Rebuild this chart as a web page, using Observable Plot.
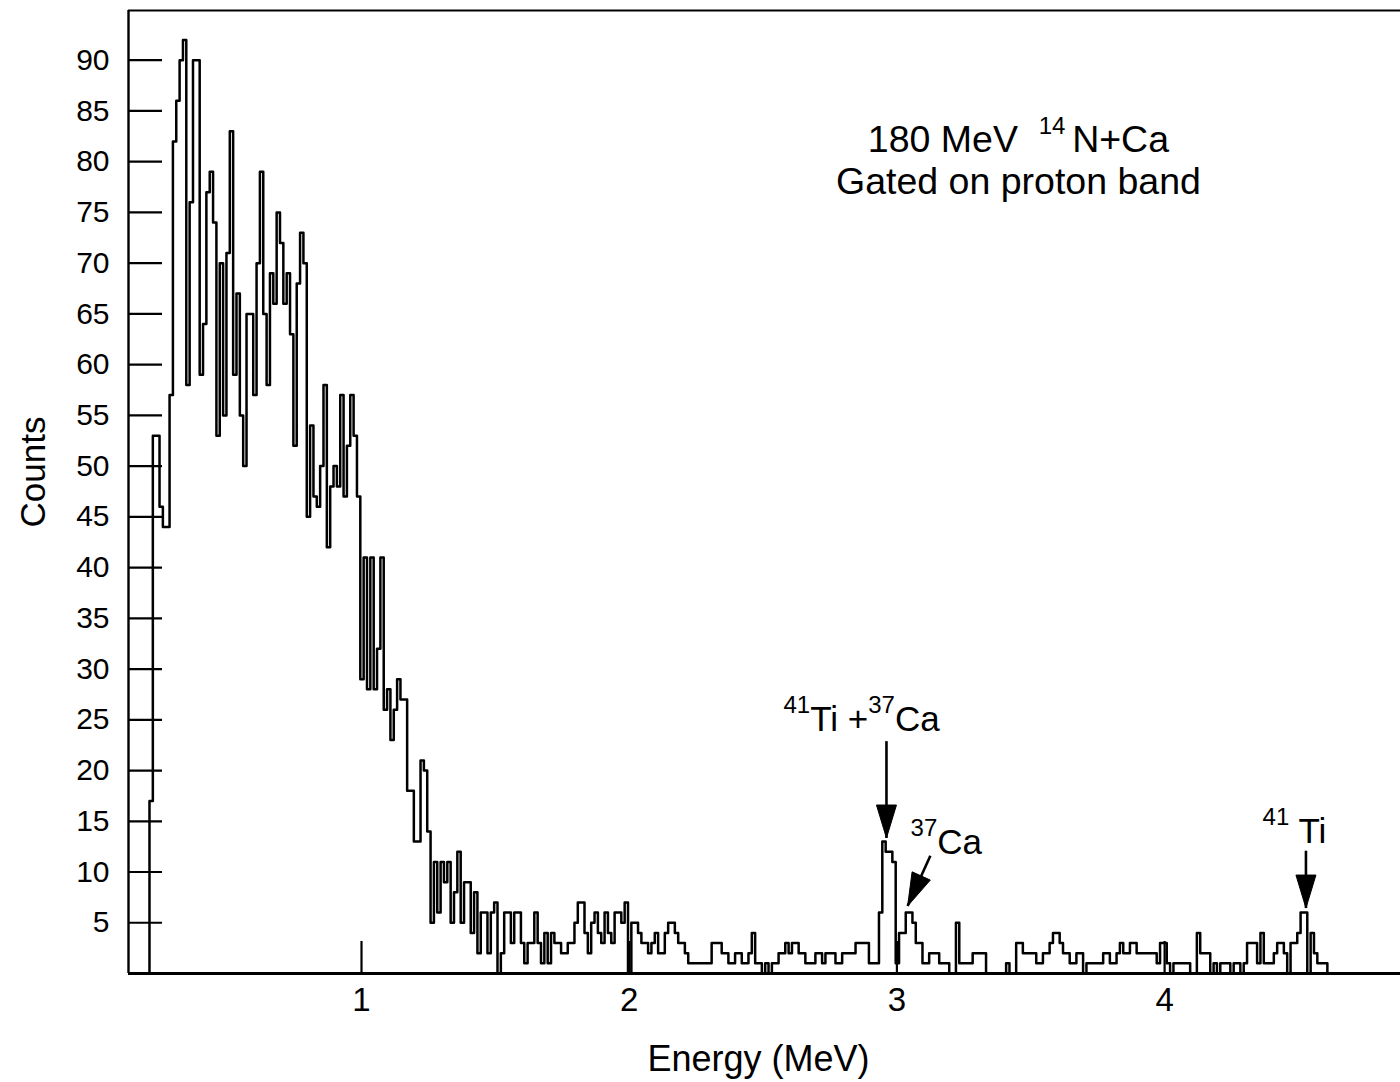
<!DOCTYPE html>
<html>
<head>
<meta charset="utf-8">
<script src="https://cdn.jsdelivr.net/npm/d3@7"></script>
<script src="https://cdn.jsdelivr.net/npm/@observablehq/plot@0.6"></script>
<style>
  html, body { margin: 0; padding: 0; background: #fff; }
  #chart svg { display: block; font-family: "Liberation Sans", Arial, Helvetica, sans-serif; }
</style>
</head>
<body>
<div id="chart"></div>
<script>
// ---------------- data ----------------
const binStart = 0.208;   // MeV, lower edge of first channel
const binWidth = 0.0125;  // MeV per channel
const counts = [
  17, 53, 53, 46, 44, 44, 57, 82, 86, 90,
  92, 58, 76, 90, 90, 59, 64, 77, 79, 74,
  53, 70, 55, 71, 83, 59, 67, 55, 50, 65,
  65, 57, 70, 79, 65, 58, 69, 66, 75, 72,
  66, 69, 63, 52, 68, 73, 70, 45, 54, 47,
  46, 50, 58, 42, 48, 50, 48, 57, 47, 52,
  57, 53, 47, 29, 41, 28, 41, 28, 32, 41,
  26, 28, 23, 26, 29, 27, 27, 18, 18, 13,
  13, 21, 20, 14, 5, 11, 6, 11, 9, 11,
  5, 8, 12, 5, 9, 9, 4, 8, 2, 6,
  6, 2, 6, 7, 0, 2, 6, 6, 3, 6,
  6, 3, 1, 3, 3, 6, 3, 1, 4, 1,
  4, 3, 3, 2, 2, 3, 3, 5, 7, 7,
  4, 2, 5, 6, 4, 3, 6, 4, 3, 6,
  6, 5, 7, 0, 5, 5, 4, 3, 3, 2,
  3, 4, 2, 2, 4, 5, 5, 4, 3, 3,
  2, 1, 1, 1, 1, 1, 1, 1, 3, 3,
  3, 2, 2, 1, 1, 2, 2, 1, 1, 2,
  4, 1, 1, 0, 1, 0, 1, 1, 2, 2,
  3, 2, 3, 3, 2, 2, 1, 1, 1, 2,
  2, 1, 2, 2, 2, 1, 1, 2, 2, 2,
  2, 3, 3, 3, 3, 1, 1, 1, 6, 13,
  12, 12, 11, 1, 4, 4, 6, 6, 5, 3,
  3, 1, 1, 2, 2, 2, 1, 1, 1, 0,
  0, 5, 1, 1, 1, 1, 2, 2, 2, 2,
  0, 0, 0, 0, 0, 0, 1, 0, 0, 3,
  3, 2, 2, 2, 2, 1, 1, 2, 2, 3,
  4, 4, 3, 2, 2, 1, 1, 2, 2, 0,
  1, 1, 1, 1, 1, 2, 2, 1, 1, 2,
  3, 2, 2, 3, 3, 2, 2, 2, 2, 2,
  2, 1, 3, 3, 1, 0, 1, 1, 1, 1,
  1, 0, 0, 4, 2, 2, 2, 0, 1, 0,
  1, 1, 1, 0, 1, 1, 0, 1, 3, 3,
  3, 1, 4, 1, 1, 1, 2, 3, 3, 2,
  0, 3, 3, 4, 6, 6, 0, 4, 2, 1,
  1, 1, 0
];
const xTicks = [1, 2, 3, 4];
const yTicks = [5, 10, 15, 20, 25, 30, 35, 40, 45, 50, 55, 60, 65, 70, 75, 80, 85, 90];
const xLabel = "Energy (MeV)";
const yLabel = "Counts";
const titleLines = ["180 MeV  ^{14 }N+Ca", "Gated on proton band"];
const peakLabels = ["^{41}Ti +^{37}Ca", "^{37}Ca", "^{41} Ti"];
// arrow tips (energy, counts) and tails
const arrowTipE = [2.961, 3.040, 4.528];
const arrowTipC = [13.35, 6.65, 6.45];
const arrowTailE = [2.961, 3.125, 4.528];
const arrowTailC = [22.9, 11.6, 12.1];

// ---------------- build ----------------
const xDomain = [0.1296, 4.8812];
const yDomain = [0, 94.9];

const hist = [{E: binStart, c: 0}]
  .concat(counts.map((c, i) => ({E: binStart + i * binWidth, c})))
  .concat([{E: binStart + counts.length * binWidth, c: 0}]);

const arrows = arrowTipE.map((e, i) => ({
  x1: arrowTailE[i], y1: arrowTailC[i], x2: e, y2: arrowTipC[i]
}));

function arrowHead(angleDeg, len = 33, half = 10) {
  const a = angleDeg * Math.PI / 180;
  const dx = Math.sin(a), dy = -Math.cos(a);
  return {
    draw(ctx) {
      const bx = -dx * len, by = -dy * len;
      const nx = -dy, ny = dx;
      ctx.moveTo(0, 0);
      ctx.lineTo(bx + nx * half, by + ny * half);
      ctx.lineTo(bx - nx * half, by - ny * half);
      ctx.closePath();
    }
  };
}
function angleOf(i) {
  const sx = (arrowTipE[i] - arrowTailE[i]) * 267.7;
  const sy = -(arrowTipC[i] - arrowTailC[i]) * 10.147;
  return Math.atan2(sx, -sy) * 180 / Math.PI;
}

const font = "Liberation Sans, Arial, Helvetica, sans-serif";

const plot = Plot.plot({
  width: 1400,
  height: 1082,
  marginLeft: 128,
  marginRight: 0,
  marginTop: 10,
  marginBottom: 109,
  style: {fontFamily: font, background: "#fff", color: "#000"},
  x: {domain: xDomain},
  y: {domain: yDomain},
  marks: [
    // frame (left, top, bottom)
    Plot.ruleX([xDomain[0]], {strokeWidth: 2.4}),
    Plot.ruleY([yDomain[1]], {strokeWidth: 2.2}),
    Plot.ruleY([0], {strokeWidth: 2.8}),
    // axes
    Plot.axisY({ticks: yTicks, tickSize: 0, tickPadding: 19, fontSize: 30, label: null}),
    Plot.axisY({ticks: yTicks, tickSize: -34, tickFormat: () => "", strokeWidth: 2.2, label: null}),
    Plot.axisX({ticks: xTicks, tickSize: 0, tickPadding: 14, fontSize: 33, tickFormat: d => String(d), label: null}),
    Plot.axisX({ticks: xTicks, tickSize: -32, tickFormat: () => "", strokeWidth: 2.2, label: null}),
    // histogram
    Plot.line(hist, {x: "E", y: "c", curve: "step-after", stroke: "#000", strokeWidth: 2.5}),
    // axis titles
    Plot.text([xLabel], {frameAnchor: "bottom", text: d => d, fontSize: 36, lineAnchor: "bottom", textAnchor: "middle", dy: 97, dx: -6}),
    Plot.text([yLabel], {frameAnchor: "left", text: d => d, fontSize: 35, lineAnchor: "bottom", textAnchor: "middle", rotate: -90, dx: -84, dy: -20}),
    // annotation title
    Plot.text([titleLines[0]], {x: 3.454, y: 81.0, text: d => d, fontSize: 37.5, lineAnchor: "bottom", textAnchor: "middle"}),
    Plot.text([titleLines[1]], {x: 3.454, y: 76.8, text: d => d, fontSize: 37.5, lineAnchor: "bottom", textAnchor: "middle"}),
    // peak labels
    Plot.text([peakLabels[0]], {x: 2.5764, y: 23.9, text: d => d, fontSize: 35, lineAnchor: "bottom", textAnchor: "start"}),
    Plot.text([peakLabels[1]], {x: 3.051, y: 11.77, text: d => d, fontSize: 35, lineAnchor: "bottom", textAnchor: "start"}),
    Plot.text([peakLabels[2]], {x: 4.366, y: 12.86, text: d => d, fontSize: 35, lineAnchor: "bottom", textAnchor: "start"}),
    // arrows
    Plot.link(arrows, {x1: "x1", y1: "y1", x2: "x2", y2: "y2", stroke: "#000", strokeWidth: 2.6}),
    ...arrows.map((a, i) => Plot.dot([a], {x: "x2", y: "y2", r: 6, symbol: arrowHead(angleOf(i)), fill: "#000", stroke: "#000", strokeWidth: 1}))
  ]
});

// superscripts: turn ^{..} into raised tspans
d3.select(plot).selectAll("text").each(function () {
  const t = this.textContent;
  if (!t || t.indexOf("^{") < 0) return;
  const el = d3.select(this);
  el.text(null);
  const re = /\^\{([^}]*)\}/g;
  let last = 0, m, raised = false;
  const raise = 18;
  const add = (str, sup) => {
    if (!str) return;
    const ts = el.append("tspan").text(str);
    if (sup) {
      ts.attr("font-size", 24).attr("dy", raised ? 0 : -raise).attr("xml:space", "preserve");
      raised = true;
    } else if (raised) {
      ts.attr("dy", raise);
      raised = false;
    }
  };
  while ((m = re.exec(t)) !== null) {
    add(t.slice(last, m.index), false);
    add(m[1], true);
    last = re.lastIndex;
  }
  add(t.slice(last), false);
});
d3.select(plot).selectAll("text").style("white-space", "pre");

document.getElementById("chart").appendChild(plot);
</script>
</body>
</html>
